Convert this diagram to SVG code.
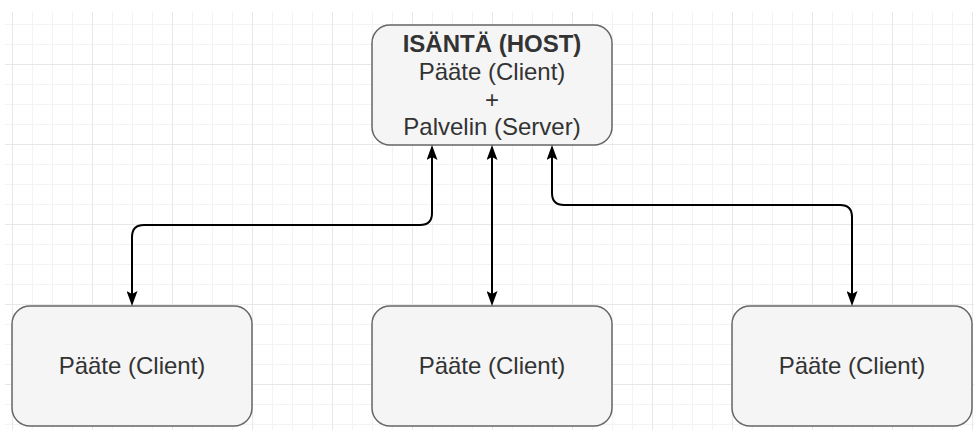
<svg xmlns="http://www.w3.org/2000/svg" width="974" height="430" viewBox="0 0 974 430">
  <style>
    .node { fill: #f5f5f5; stroke: #666666; stroke-width: 1.5; }
    .label { font-family: "Liberation Sans", Arial, Helvetica, sans-serif; font-size: 24px; fill: #333333; text-anchor: middle; }
    .title { font-weight: bold; }
    .edge { fill: none; stroke: #000000; stroke-width: 2; }
  </style>
  <defs>
    <!-- 20px minor grid with an 80px major line -->
    <pattern id="grid" patternUnits="userSpaceOnUse" x="12" y="-16" width="80" height="80">
      <rect x="20" y="0" width="1" height="80" fill="#f3f3f3"/>
      <rect x="40" y="0" width="1" height="80" fill="#f3f3f3"/>
      <rect x="60" y="0" width="1" height="80" fill="#f3f3f3"/>
      <rect x="0" y="20" width="80" height="1" fill="#f3f3f3"/>
      <rect x="0" y="40" width="80" height="1" fill="#f3f3f3"/>
      <rect x="0" y="60" width="80" height="1" fill="#f3f3f3"/>
      <rect x="0" y="0" width="1" height="80" fill="#e8e8e8"/>
      <rect x="0" y="0" width="80" height="1" fill="#e8e8e8"/>
    </pattern>
    <marker id="arrow" markerUnits="userSpaceOnUse" viewBox="0 0 15 11" markerWidth="15" markerHeight="11" refX="3" refY="5.5" orient="auto-start-reverse">
      <path d="M0,0 L15,5.5 L0,11 L3,5.5 Z" fill="#000000"/>
    </marker>
  </defs>

  <rect x="0" y="0" width="974" height="430" fill="#ffffff"/>
  <rect x="5" y="12" width="969" height="418" fill="url(#grid)"/>

  <g id="host">
    <rect class="node" x="372" y="25" width="240" height="120" rx="18" ry="18"/>
    <text class="label title" x="492" y="52">ISÄNTÄ (HOST)</text>
    <text class="label" x="492" y="79.5">Pääte (Client)</text>
    <text class="label" x="492" y="107.5">+</text>
    <text class="label" x="492" y="135">Palvelin (Server)</text>
  </g>

  <g id="client-left">
    <rect class="node" x="12" y="306" width="240" height="120" rx="18" ry="18"/>
    <text class="label" x="132" y="374">Pääte (Client)</text>
  </g>

  <g id="client-middle">
    <rect class="node" x="372" y="306" width="240" height="120" rx="18" ry="18"/>
    <text class="label" x="492" y="374">Pääte (Client)</text>
  </g>

  <g id="client-right">
    <rect class="node" x="732" y="306" width="240" height="120" rx="18" ry="18"/>
    <text class="label" x="852" y="374">Pääte (Client)</text>
  </g>

  <g id="connectors">
    <path class="edge" d="M432 157 V213 Q432 225 420 225 H144 Q132 225 132 237 V294" marker-start="url(#arrow)" marker-end="url(#arrow)"/>
    <path class="edge" d="M492 157 V294" marker-start="url(#arrow)" marker-end="url(#arrow)"/>
    <path class="edge" d="M552 157 V193 Q552 205 564 205 H840 Q852 205 852 217 V294" marker-start="url(#arrow)" marker-end="url(#arrow)"/>
  </g>
</svg>
